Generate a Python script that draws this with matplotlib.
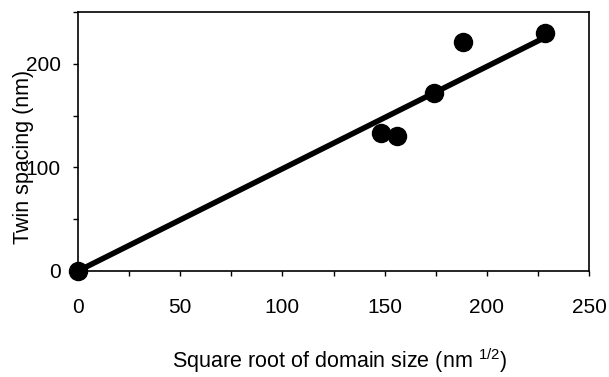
import matplotlib
matplotlib.use("Agg")
import matplotlib.pyplot as plt

plt.rcParams['font.family'] = ['Liberation Sans', 'DejaVu Sans']
plt.rcParams['mathtext.fontset'] = 'custom'
plt.rcParams['mathtext.rm'] = 'Liberation Sans'
plt.rcParams['mathtext.it'] = 'Liberation Sans'

# data
sqrt_domain = [0, 148, 156, 174, 188.5, 228.5]
twin_spacing = [0, 133.5, 130.5, 171.5, 221, 230]
fit_x = [0, 228]
fit_y = [0, 225]

x_ticks = [0, 50, 100, 150, 200, 250]
y_ticks = [0, 100, 200]

fig = plt.figure(figsize=(6.09, 3.77), dpi=100)
ax = fig.add_axes([78/609, 1-271/377, (589-78)/609, (271-12)/377])

ax.plot(fit_x, fit_y, color='black', lw=4, solid_capstyle='round', zorder=2)
ax.plot(sqrt_domain, twin_spacing, 'o', color='black', ms=13, zorder=3, clip_on=False)

ax.set_xlim(0, 250)
ax.set_ylim(0, 250)
ax.set_xticks(x_ticks)
ax.set_xticks(range(0, 251, 25), minor=True)
ax.set_yticks(y_ticks)
ax.set_yticks(range(0, 251, 50), minor=True)

for s in ax.spines.values():
    s.set_linewidth(1.2)

ax.tick_params(axis='both', which='both', direction='out', length=3.5, width=1, labelsize=15)
ax.tick_params(axis='x', which='major', pad=16)
ax.tick_params(axis='y', which='major', pad=9)

ax.set_xlabel('Square root of domain size (nm $^{\\mathrm{1/2}}$)', fontsize=15.5)
ax.set_ylabel('Twin spacing (nm)', fontsize=15.5)
ax.xaxis.set_label_coords((340-78)/511, (271-346)/259)
ax.yaxis.set_label_coords((34-78)/511, (271-157)/259)

fig.savefig('out.png', dpi=100)
